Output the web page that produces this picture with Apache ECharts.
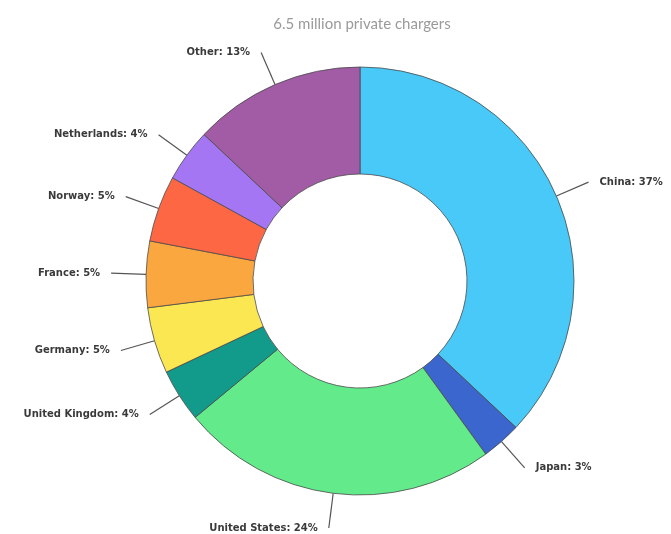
<!DOCTYPE html>
<html>
<head>
<meta charset="utf-8">
<script src="https://cdn.jsdelivr.net/npm/echarts@6/dist/echarts.min.js"></script>
<style>
  html, body { margin: 0; padding: 0; background: #ffffff; }
  #chart { width: 671px; height: 534px; }
</style>
</head>
<body>
<div id="chart"></div>
<script>
// Share of private EV chargers by country (percent)
const countries = ['China', 'Japan', 'United States', 'United Kingdom', 'Germany', 'France', 'Norway', 'Netherlands', 'Other'];
const shares = [37, 3, 24, 4, 5, 5, 5, 4, 13];
const sliceColors = ['#48c9f8', '#3b66cd', '#62ea8b', '#129b8b', '#fbe752', '#fba73f', '#fd6744', '#a476f3', '#a15ca5'];
const titleText = '6.5 million private chargers';

const chart = echarts.init(document.getElementById('chart'), null, { renderer: 'canvas' });

chart.setOption({
  backgroundColor: '#ffffff',
  animation: false,
  title: {
    text: titleText,
    left: 357,
    top: 12,
    textAlign: 'center',
    textStyle: {
      fontFamily: 'Lato',
      fontSize: 15,
      fontWeight: 'normal',
      color: '#9a9a9a'
    }
  },
  series: [{
    type: 'pie',
    center: [360, 281],
    radius: [107, 214],
    startAngle: 90,
    clockwise: true,
    avoidLabelOverlap: false,
    data: countries.map((name, i) => ({
      name: name,
      value: shares[i],
      itemStyle: { color: sliceColors[i] }
    })),
    itemStyle: {
      borderColor: '#4a4a4a',
      borderWidth: 0.8
    },
    label: {
      show: true,
      position: 'outside',
      formatter: '{b}: {c}%',
      fontFamily: 'DejaVu Sans',
      fontSize: 10,
      fontWeight: 'bold',
      color: '#3a3a3a',
      padding: [3, 0, 0, 0],
      distanceToLabelLine: 11
    },
    labelLine: {
      show: true,
      length: 35,
      length2: 0,
      lineStyle: { color: '#555555', width: 1.2 }
    },
    emphasis: { disabled: true }
  }]
});
</script>
</body>
</html>
